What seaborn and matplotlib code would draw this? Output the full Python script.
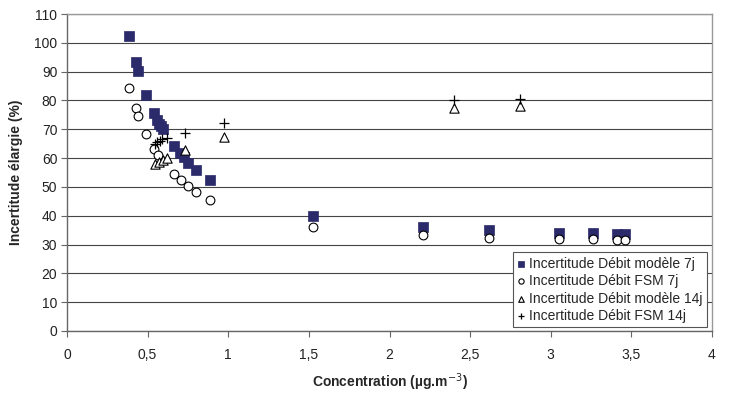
import matplotlib
matplotlib.use("Agg")
import matplotlib.pyplot as plt
import seaborn as sns
import pandas as pd
from matplotlib.ticker import FuncFormatter, MultipleLocator

# Data
x_mod7 = [0.385, 0.426, 0.442, 0.492, 0.541, 0.56, 0.57, 0.583, 0.595, 0.666, 0.70, 0.726, 0.752, 0.80, 0.885,
          1.524, 2.21, 2.62, 3.05, 3.26, 3.41, 3.46]
y_mod7 = [102.3, 93.4, 90.1, 81.8, 75.5, 73.1, 72.0, 71.1, 70.2, 64.3, 61.6, 60.4, 58.4, 56.0, 52.5,
          40.0, 36.1, 35.0, 34.0, 34.0, 33.6, 33.6]
x_fsm7 = [0.385, 0.426, 0.442, 0.492, 0.541, 0.566, 0.666, 0.705, 0.752, 0.80, 0.885,
          1.524, 2.21, 2.62, 3.05, 3.26, 3.41, 3.46]
y_fsm7 = [84.3, 77.4, 74.7, 68.3, 63.2, 61.2, 54.5, 52.3, 50.3, 48.2, 45.5,
          36.1, 33.3, 32.4, 31.8, 31.8, 31.5, 31.5]
x_mod14 = [0.546, 0.572, 0.597, 0.622, 0.734, 0.972, 2.40, 2.81]
y_mod14 = [57.9, 58.6, 59.3, 60.0, 62.9, 67.3, 77.3, 78.0]
x_fsm14 = [0.546, 0.56, 0.575, 0.59, 0.62, 0.734, 0.972, 2.40, 2.81]
y_fsm14 = [65.0, 65.5, 66.0, 66.5, 67.0, 68.8, 72.3, 80.0, 80.4]

labels = ["Incertitude Débit modèle 7j", "Incertitude Débit FSM 7j",
          "Incertitude Débit modèle 14j", "Incertitude Débit FSM 14j"]

sns.set_style("white")
plt.rcParams['font.family'] = ['Liberation Sans', 'DejaVu Sans']

fig = plt.figure(figsize=(7.31, 3.94), dpi=100)
ax = fig.add_axes([67/731, 63/394, 645/731, 317/394])

navy = "#2B2B6B"
sns.scatterplot(x=x_mod7, y=y_mod7, ax=ax, marker="s", s=55, color=navy, edgecolor=navy,
                linewidth=0.5, label=labels[0], zorder=3)
sns.scatterplot(x=x_fsm7, y=y_fsm7, ax=ax, marker="o", s=40, facecolor="white", edgecolor="black",
                linewidth=0.8, label=labels[1], zorder=4)
sns.scatterplot(x=x_mod14, y=y_mod14, ax=ax, marker="^", s=45, facecolor="white", edgecolor="black",
                linewidth=0.8, label=labels[2], zorder=4)
sns.scatterplot(x=x_fsm14, y=y_fsm14, ax=ax, marker="+", s=55, color="black",
                linewidth=0.9, label=labels[3], zorder=4)

ax.set_xlim(0, 4)
ax.set_ylim(0, 110)
ax.xaxis.set_major_locator(MultipleLocator(0.5))
ax.yaxis.set_major_locator(MultipleLocator(10))
ax.xaxis.set_major_formatter(FuncFormatter(lambda v, p: ("%g" % v).replace(".", ",")))
ax.grid(axis="y", color="#444444", linewidth=0.8)
ax.set_axisbelow(True)
for s in ["top", "right"]:
    ax.spines[s].set_color("#999999")
    ax.spines[s].set_linewidth(1.0)
for s in ["left", "bottom"]:
    ax.spines[s].set_color("#666666")
    ax.spines[s].set_linewidth(1.0)
ax.tick_params(axis="both", direction="out", length=4, width=0.8, color="#666666",
               labelsize=10, labelcolor="#222222", bottom=True, left=True, pad=3)
ax.tick_params(axis="x", pad=8)

ax.set_xlabel("Concentration (µg.m$^{-3}$)", fontsize=10, fontweight="bold", labelpad=7)
ax.set_ylabel("Incertitude élargie (%)", fontsize=10, fontweight="bold", labelpad=8)

leg = ax.legend(loc="lower right", bbox_to_anchor=(0.992, 0.012), fontsize=10, frameon=True,
                fancybox=False, edgecolor="#555555", framealpha=1, handlelength=0.6,
                handletextpad=0.3, borderpad=0.3, labelspacing=0.25, markerscale=0.6,
                borderaxespad=0)
leg.get_frame().set_linewidth(0.8)

fig.savefig("out.png", dpi=100)
